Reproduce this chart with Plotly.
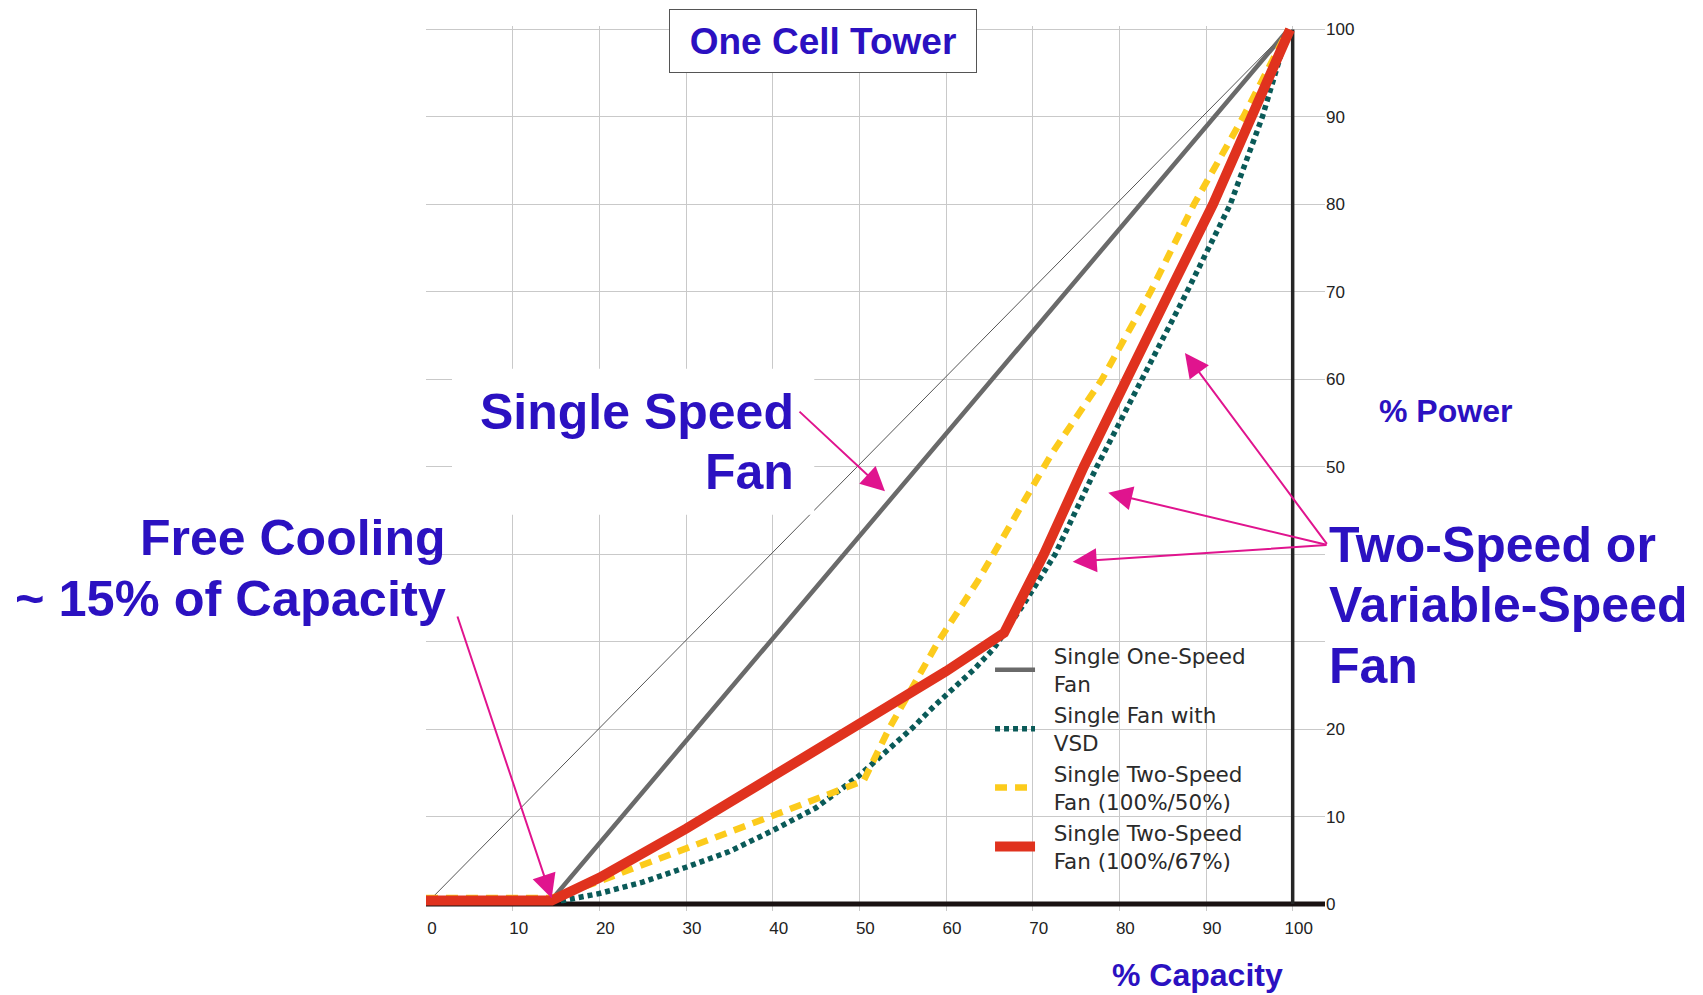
import plotly.graph_objects as go

# ---------------- data ----------------
capacity_ticks = [0, 10, 20, 30, 40, 50, 60, 70, 80, 90, 100]
power_ticks = [0, 10, 20, 30, 40, 50, 60, 70, 80, 90, 100]
power_ticktext = ["0", "10", "20", "", "", "50", "60", "70", "80", "90", "100"]

ref_x = [0, 99.5]
ref_y = [0, 100]

one_speed_x = [0, 14.5, 99.5]
one_speed_y = [0.5, 0.5, 100]

vsd_x = [0, 15.8, 20, 25, 30, 35, 40, 45, 50, 52.8, 56.2, 58.6, 60.9, 63.2, 65.5,
         67.0, 68.9, 70.5, 72.6, 77.4, 82.6, 87.8, 92.8, 96.5, 99.5]
vsd_y = [0.4, 0.4, 1.2, 2.5, 4.2, 6.0, 8.4, 11.0, 14.7, 17.2, 20.2, 22.6, 24.6, 26.8, 29.2,
         31.3, 34.2, 36.7, 40, 50, 60, 70, 80, 90, 100]

two_speed_50_x = [0, 14.5, 20, 30, 40, 50.5, 53.4, 59.1, 63.7, 72.2, 78, 83.6, 88.6, 94.3, 99.5]
two_speed_50_y = [0.7, 0.7, 2.6, 6.3, 10.1, 14.1, 20, 30, 37, 51.5, 60, 70, 80, 90, 100]

two_speed_67_x = [0, 14.5, 20, 30, 40, 50, 60, 66.7, 71.3, 75.9, 80.7, 85.8, 90.8, 95.3, 99.7]
two_speed_67_y = [0.4, 0.4, 3.0, 8.6, 14.6, 20.6, 26.6, 31.0, 40, 50, 60, 70, 80, 90, 100]

series_names = [
    ["Single One-Speed", "Fan"],
    ["Single Fan with", "VSD"],
    ["Single Two-Speed", "Fan (100%/50%)"],
    ["Single Two-Speed", "Fan (100%/67%)"],
]

X_MAX = 103.73
Y_MIN, Y_MAX = -0.8, 100.4

BLUE = "#2b11c1"
MAGENTA = "#e0148e"
BIG = "Liberation Sans, Arial, sans-serif"
PAD = "\u00a0\u00a0"


def legend_name(lines):
    return "<br>".join(PAD + s for s in lines)


fig = go.Figure()

fig.add_trace(go.Scatter(x=ref_x, y=ref_y, mode="lines", showlegend=False,
                         line=dict(color="#555555", width=1), hoverinfo="skip"))
fig.add_trace(go.Scatter(x=one_speed_x, y=one_speed_y, mode="lines",
                         name=legend_name(series_names[0]),
                         line=dict(color="#6a6a6a", width=4.5)))
fig.add_trace(go.Scatter(x=vsd_x, y=vsd_y, mode="lines", name=legend_name(series_names[1]),
                         line=dict(color="#0a5a58", width=5.5, dash="5px,4px")))
fig.add_trace(go.Scatter(x=two_speed_50_x, y=two_speed_50_y, mode="lines",
                         name=legend_name(series_names[2]),
                         line=dict(color="#fccb1c", width=6.5, dash="12px,8px")))
fig.add_trace(go.Scatter(x=two_speed_67_x, y=two_speed_67_y, mode="lines",
                         name=legend_name(series_names[3]),
                         line=dict(color="#e0321e", width=10)))

shapes = [
    dict(type="line", xref="x", yref="y", x0=0, x1=X_MAX, y0=0, y1=0,
         line=dict(color="#1a1212", width=5), layer="between"),
    dict(type="line", xref="x", yref="y", x0=100, x1=100, y0=0, y1=100,
         line=dict(color="#262626", width=3.5), layer="between"),
    dict(type="rect", xref="x", yref="y", x0=3.0, x1=44.8, y0=44.5, y1=61.2,
         fillcolor="white", line=dict(width=0), layer="above"),
]

annotations = [
    dict(text="<b>One Cell Tower</b>", xref="paper", yref="paper", x=0.4416, y=0.983,
         xanchor="center", yanchor="middle", showarrow=False,
         font=dict(family=BIG, size=37, color=BLUE), bgcolor="white",
         bordercolor="#555555", borderwidth=1, borderpad=1, width=304, height=60),
    dict(text="<b>Single Speed</b>", xref="paper", yref="paper", x=0.4116, y=0.5636,
         xanchor="right", yanchor="middle", showarrow=False,
         font=dict(family=BIG, size=50, color=BLUE)),
    dict(text="<b>Fan</b>", xref="paper", yref="paper", x=0.4116, y=0.4955,
         xanchor="right", yanchor="middle", showarrow=False,
         font=dict(family=BIG, size=50, color=BLUE)),
    dict(text="<b>Free Cooling</b>", xref="paper", yref="paper", x=0.0248, y=0.422,
         xanchor="right", yanchor="middle", showarrow=False,
         font=dict(family=BIG, size=50, color=BLUE)),
    dict(text="<b>~ 15% of Capacity</b>", xref="paper", yref="paper", x=0.0248, y=0.3532,
         xanchor="right", yanchor="middle", showarrow=False,
         font=dict(family=BIG, size=50.5, color=BLUE)),
    dict(text="<b>Two-Speed or</b>", xref="paper", yref="paper", x=1.0022, y=0.4139,
         xanchor="left", yanchor="middle", showarrow=False,
         font=dict(family=BIG, size=50, color=BLUE)),
    dict(text="<b>Variable-Speed</b>", xref="paper", yref="paper", x=1.0022, y=0.3452,
         xanchor="left", yanchor="middle", showarrow=False,
         font=dict(family=BIG, size=50, color=BLUE)),
    dict(text="<b>Fan</b>", xref="paper", yref="paper", x=1.0022, y=0.2768,
         xanchor="left", yanchor="middle", showarrow=False,
         font=dict(family=BIG, size=50, color=BLUE)),
    dict(text="<b>% Power</b>", xref="paper", yref="paper", x=1.0578, y=0.565,
         xanchor="left", yanchor="middle", showarrow=False,
         font=dict(family=BIG, size=32, color=BLUE)),
    dict(text="<b>% Capacity</b>", xref="paper", yref="paper", x=0.7608, y=-0.0723,
         xanchor="left", yanchor="middle", showarrow=False,
         font=dict(family=BIG, size=32, color=BLUE)),
]

arrow_style = dict(showarrow=True, arrowhead=2, arrowsize=2.4, arrowwidth=2,
                   arrowcolor=MAGENTA, text="", axref="pixel", ayref="pixel",
                   xref="x", yref="y", standoff=0)
arrows = [
    (14.5, 0.65, -94.7, -283.3),
    (52.96, 47.2, -87, -81),
    (87.57, 63.0, 143, 192.3),
    (78.72, 47.03, 219.7, 52.3),
    (74.62, 39.14, 255.3, -16.7),
]
for hx, hy, ax, ay in arrows:
    annotations.append(dict(x=hx, y=hy, ax=ax, ay=ay, **arrow_style))

fig.update_layout(
    width=1703, height=995,
    margin=dict(l=426, r=378, t=26, b=84),
    paper_bgcolor="white", plot_bgcolor="white",
    shapes=shapes, annotations=annotations,
    legend=dict(x=0.6274, y=0.3115, xanchor="left", yanchor="top",
                bgcolor="rgba(0,0,0,0)", borderwidth=0,
                font=dict(family="DejaVu Sans", size=21.5, color="#2b2b2b"),
                itemwidth=40, tracegroupgap=0),
    xaxis=dict(range=[0, X_MAX], tickmode="array", tickvals=capacity_ticks,
               showgrid=True, gridcolor="#c9c9c9", gridwidth=1.3, zeroline=False,
               showline=False, ticks="", ticklabelshift=6, ticklabelstandoff=5,
               tickfont=dict(family="Liberation Sans, Arial", size=17, color="#222222")),
    yaxis=dict(range=[Y_MIN, Y_MAX], side="right", tickmode="array",
               tickvals=power_ticks, ticktext=power_ticktext,
               showgrid=True, gridcolor="#c9c9c9", gridwidth=1.3, zeroline=False,
               showline=False, ticks="", ticklabelstandoff=0,
               tickfont=dict(family="Liberation Sans, Arial", size=17, color="#222222")),
)

fig.write_html("out.html", config={"displayModeBar": False},
               post_script="document.body.style.margin='0';document.body.style.overflow='hidden';")
